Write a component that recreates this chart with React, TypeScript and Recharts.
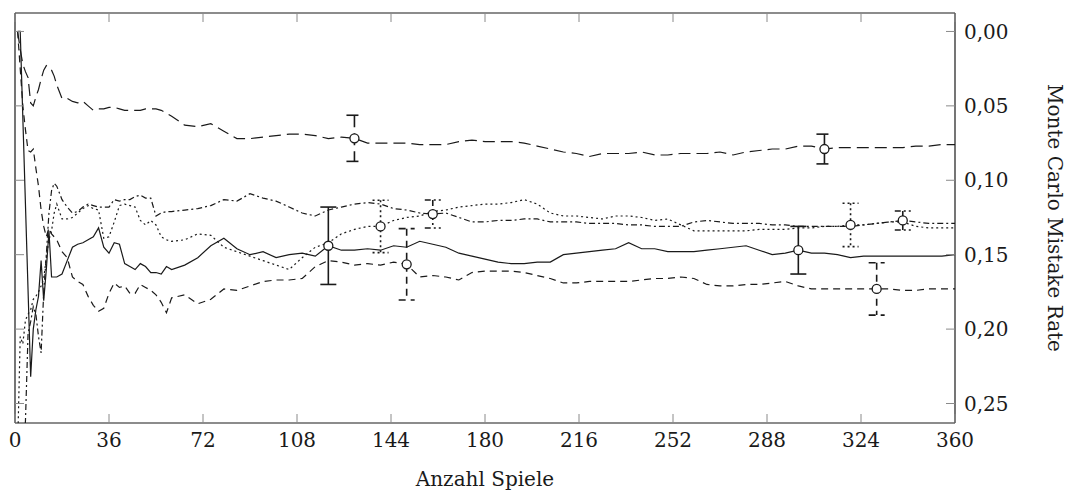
import { LineChart, Line, XAxis, YAxis, ErrorBar } from 'recharts'

const GAMES = [
  1, 2, 3, 4, 5, 6, 7, 8, 9, 10, 11, 12, 13, 14, 15, 16,
  18, 20, 22, 24, 26, 28, 30, 32, 34, 36, 38, 40, 42, 44, 46, 48, 50, 52, 54, 56, 58, 60,
  65, 70, 75, 80, 85, 90, 95, 100, 105, 110, 115, 120, 125, 130, 135, 140, 145, 150, 155, 160,
  165, 170, 175, 180, 185, 190, 195, 200, 205, 210, 215, 220, 225, 230, 235, 240, 245, 250, 255, 260,
  265, 270, 275, 280, 285, 290, 295, 300, 305, 310, 315, 320, 325, 330, 335, 340, 345, 350, 355, 360,
]

const LONG_DASH = [
  0.0, 0.012, 0.022, 0.027, 0.031, 0.048, 0.05, 0.044, 0.039, 0.032, 0.026, 0.023, 0.024, 0.026, 0.03, 0.036,
  0.045, 0.045, 0.047, 0.048, 0.047, 0.05, 0.053, 0.052, 0.052, 0.051, 0.051, 0.052, 0.053, 0.053, 0.053, 0.053, 0.052, 0.052, 0.052, 0.053, 0.055, 0.057,
  0.063, 0.064, 0.062, 0.067, 0.072, 0.072, 0.071, 0.07, 0.069, 0.069, 0.07, 0.072, 0.071, 0.0718, 0.075, 0.075, 0.075, 0.075, 0.076, 0.076,
  0.076, 0.074, 0.073, 0.074, 0.074, 0.074, 0.075, 0.077, 0.079, 0.081, 0.082, 0.084, 0.082, 0.082, 0.082, 0.081, 0.083, 0.083, 0.082, 0.082,
  0.082, 0.081, 0.083, 0.081, 0.08, 0.079, 0.079, 0.077, 0.077, 0.079, 0.078, 0.078, 0.078, 0.078, 0.078, 0.078, 0.077, 0.077, 0.076, 0.076,
]

const SOLID = [
  0.0, 0.0, null, null, null, 0.232, 0.2, 0.187, 0.178, 0.154, 0.181, 0.16, 0.134, 0.165, 0.165, 0.165,
  0.163, 0.154, 0.145, 0.143, 0.142, 0.14, 0.138, 0.132, 0.145, 0.149, 0.142, 0.143, 0.156, 0.158, 0.16, 0.156, 0.158, 0.162, 0.162, 0.163, 0.158, 0.16,
  0.157, 0.152, 0.144, 0.139, 0.146, 0.15, 0.148, 0.152, 0.15, 0.149, 0.151, 0.144, 0.147, 0.147, 0.146, 0.147, 0.144, 0.145, 0.141, 0.143,
  0.145, 0.149, 0.151, 0.153, 0.155, 0.156, 0.156, 0.155, 0.155, 0.15, 0.149, 0.148, 0.147, 0.146, 0.142, 0.146, 0.146, 0.148, 0.148, 0.148,
  0.147, 0.146, 0.145, 0.144, 0.147, 0.15, 0.149, 0.147, 0.149, 0.149, 0.15, 0.152, 0.151, 0.151, 0.151, 0.151, 0.151, 0.151, 0.151, 0.15,
]

const DASHED = [
  0.0, null, 0.05, 0.066, 0.08, 0.081, 0.079, 0.092, 0.104, 0.12, 0.131, 0.138, 0.132, 0.136, 0.138, 0.14,
  0.148, 0.152, 0.165, 0.168, 0.17, 0.178, 0.184, 0.188, 0.186, 0.176, 0.169, 0.172, 0.171, 0.176, 0.176, 0.17, 0.172, 0.174, 0.177, 0.182, 0.189, 0.179,
  0.177, 0.183, 0.18, 0.173, 0.174, 0.171, 0.168, 0.167, 0.167, 0.166, 0.158, 0.154, 0.155, 0.157, 0.156, 0.157, 0.155, 0.1565, 0.165, 0.164,
  0.165, 0.167, 0.162, 0.161, 0.161, 0.161, 0.162, 0.164, 0.166, 0.169, 0.169, 0.168, 0.168, 0.168, 0.168, 0.167, 0.166, 0.166, 0.165, 0.166,
  0.17, 0.171, 0.171, 0.17, 0.17, 0.169, 0.168, 0.171, 0.173, 0.173, 0.173, 0.173, 0.173, 0.173, 0.173, 0.174, 0.174, 0.173, 0.173, 0.173,
]

const DOTTED = [
  0.28, 0.205, 0.21, 0.194, 0.19, 0.187, 0.18, 0.178, 0.175, 0.171, 0.166, 0.152, 0.14, 0.134, 0.122, 0.116,
  0.126, 0.126, 0.125, 0.122, 0.119, 0.117, 0.119, 0.12, 0.139, 0.138, 0.128, 0.117, 0.116, 0.117, 0.118, 0.127, 0.13, 0.127, 0.13, 0.138, 0.14, 0.141,
  0.14, 0.136, 0.137, 0.145, 0.148, 0.151, 0.154, 0.157, 0.16, 0.152, 0.145, 0.142, 0.136, 0.133, 0.131, 0.131, 0.127, 0.125, 0.124, 0.121,
  0.12, 0.118, 0.117, 0.116, 0.116, 0.115, 0.113, 0.116, 0.122, 0.124, 0.124, 0.125, 0.126, 0.124, 0.124, 0.125, 0.127, 0.126, 0.13, 0.134,
  0.134, 0.134, 0.134, 0.134, 0.133, 0.133, 0.133, 0.132, 0.132, 0.131, 0.131, 0.13, 0.13, 0.129, 0.128, 0.128, 0.131, 0.132, 0.132, 0.132,
]

const DASH_DOT = [
  0.29, 0.29, 0.28, 0.262, 0.203, 0.195, 0.185, 0.19, 0.205, 0.216, 0.175, 0.15, 0.122, 0.107, 0.102, 0.104,
  0.113, 0.118, 0.122, 0.121, 0.118, 0.116, 0.117, 0.118, 0.118, 0.118, 0.113, 0.114, 0.113, 0.113, 0.111, 0.11, 0.112, 0.112, 0.124, 0.122, 0.121, 0.121,
  0.12, 0.119, 0.117, 0.113, 0.114, 0.109, 0.112, 0.114, 0.118, 0.122, 0.124, 0.12, 0.118, 0.116, 0.115, 0.116, 0.119, 0.12, 0.122, 0.1227,
  0.122, 0.125, 0.128, 0.128, 0.127, 0.127, 0.126, 0.126, 0.128, 0.128, 0.128, 0.129, 0.129, 0.129, 0.13, 0.13, 0.131, 0.131, 0.131, 0.128,
  0.127, 0.128, 0.129, 0.129, 0.129, 0.13, 0.13, 0.131, 0.131, 0.131, 0.131, 0.131, 0.13, 0.129, 0.128, 0.127, 0.128, 0.129, 0.129, 0.129,
]

// [game, half width of the error bar]
const LONG_DASH_ERR = [[130, 0.0155], [310, 0.01]]
const SOLID_ERR = [[120, 0.026], [300, 0.016]]
const DOTTED_ERR = [[140, 0.0176], [320, 0.0146]]
const DASHED_ERR = [[150, 0.024], [330, 0.0176]]
const DASH_DOT_ERR = [[160, 0.0094], [340, 0.0064]]

const X_TICKS = [0, 36, 72, 108, 144, 180, 216, 252, 288, 324, 360]
const Y_TICKS = [0, 0.05, 0.1, 0.15, 0.2, 0.25]

const SERIES = [
  { key: 'longDash', values: LONG_DASH, errors: LONG_DASH_ERR, dash: '12 6' },
  { key: 'solid', values: SOLID, errors: SOLID_ERR, dash: undefined },
  { key: 'dotted', values: DOTTED, errors: DOTTED_ERR, dash: '2 3' },
  { key: 'dashed', values: DASHED, errors: DASHED_ERR, dash: '7 5' },
  { key: 'dashDot', values: DASH_DOT, errors: DASH_DOT_ERR, dash: '6 3 2 3' },
]

const data = GAMES.map((game, i) => {
  const row: Record<string, number | null> = { game }
  for (const s of SERIES) {
    row[s.key] = s.values[i]
    const e = s.errors.find(([g]) => g === game)
    if (e) row[s.key + 'Err'] = e[1]
  }
  return row
})

const FONT = 'DejaVu Serif'
const INK = '#1a1a1a'
const TICK_COLOR = '#8a8a8a'
const TICK_LEN = 9

const fmt = (v: number) => v.toFixed(2).replace('.', ',')

function BottomTick({ x, y, payload }: any) {
  const axisY = y - 10
  return (
    <g>
      <line x1={x} x2={x} y1={axisY} y2={axisY - TICK_LEN} stroke={TICK_COLOR} />
      <text x={x} y={y} dy="0.71em" textAnchor="middle" fontFamily={FONT} fontSize={20} fill={INK}>
        {payload.value}
      </text>
    </g>
  )
}

function TopTick({ x, y }: any) {
  return <line x1={x} x2={x} y1={y} y2={y + TICK_LEN} stroke={TICK_COLOR} />
}

function RightTick({ x, y, payload }: any) {
  const axisX = x - 9
  return (
    <g>
      <line x1={axisX} x2={axisX - TICK_LEN} y1={y} y2={y} stroke={TICK_COLOR} />
      <text x={x} y={y} dy="0.355em" textAnchor="start" fontFamily={FONT} fontSize={20} fill={INK}>
        {fmt(payload.value)}
      </text>
    </g>
  )
}

function LeftTick({ x, y }: any) {
  return <line x1={x} x2={x + TICK_LEN} y1={y} y2={y} stroke={TICK_COLOR} />
}

function XLabel({ viewBox }: any) {
  return (
    <text x={viewBox.x + viewBox.width / 2} y={viewBox.y + 63} textAnchor="middle" fontFamily={FONT} fontSize={20} fill={INK}>
      Anzahl Spiele
    </text>
  )
}

function YLabel({ viewBox }: any) {
  const x = viewBox.x + 93
  const y = viewBox.y + viewBox.height / 2
  return (
    <text x={x} y={y} transform={`rotate(90, ${x}, ${y})`} textAnchor="middle" fontFamily={FONT} fontSize={20} fill={INK}>
      Monte Carlo Mistake Rate
    </text>
  )
}

function Marker(props: any) {
  const { cx, cy, payload, index, errKey } = props
  if (payload[errKey] == null || cx == null || cy == null) return <g key={`m-${index}`} />
  return <circle key={`m-${index}`} cx={cx} cy={cy} r={4.5} fill="#fff" stroke={INK} strokeWidth={1.3} />
}

const axisLine = { stroke: INK, strokeWidth: 1.2 }
const Y_DOMAIN = [-0.0124, 0.2631]

export default function App() {
  return (
    <div style={{ position: 'absolute', left: 0, top: 0, width: 1071, height: 492, background: '#fff' }}>
      <LineChart width={1071} height={492} data={data} margin={{ top: 12, right: 0, bottom: 0, left: 14 }}>
        <XAxis
          xAxisId="b"
          dataKey="game"
          type="number"
          domain={[0, 360]}
          allowDataOverflow
          ticks={X_TICKS}
          interval={0}
          height={69}
          tickSize={0}
          tickMargin={10}
          tickLine={false}
          axisLine={axisLine}
          tick={BottomTick}
          label={XLabel}
        />
        <XAxis
          xAxisId="t"
          orientation="top"
          dataKey="game"
          type="number"
          domain={[0, 360]}
          allowDataOverflow
          ticks={X_TICKS}
          interval={0}
          height={1}
          tickSize={0}
          tickMargin={0}
          tickLine={false}
          axisLine={axisLine}
          tick={TopTick}
        />
        <YAxis
          yAxisId="r"
          orientation="right"
          type="number"
          reversed
          domain={Y_DOMAIN}
          allowDataOverflow
          ticks={Y_TICKS}
          interval={0}
          width={116}
          tickSize={0}
          tickMargin={9}
          tickLine={false}
          axisLine={axisLine}
          tick={RightTick}
          label={YLabel}
        />
        <YAxis
          yAxisId="l"
          orientation="left"
          type="number"
          reversed
          domain={Y_DOMAIN}
          allowDataOverflow
          ticks={Y_TICKS}
          interval={0}
          width={1}
          tickSize={0}
          tickMargin={0}
          tickLine={false}
          axisLine={axisLine}
          tick={LeftTick}
        />
        {SERIES.map((s) => (
          <Line
            key={s.key}
            xAxisId="b"
            yAxisId="r"
            type="linear"
            dataKey={s.key}
            stroke={INK}
            strokeWidth={1.2}
            strokeDasharray={s.dash}
            connectNulls
            isAnimationActive={false}
            dot={(p: any) => <Marker {...p} errKey={s.key + 'Err'} />}
            activeDot={false}
          >
            <ErrorBar
              dataKey={s.key + 'Err'}
              direction="y"
              width={8}
              stroke={INK}
              strokeWidth={1.6}
              strokeDasharray={s.dash}
              isAnimationActive={false}
            />
          </Line>
        ))}
      </LineChart>
    </div>
  )
}
